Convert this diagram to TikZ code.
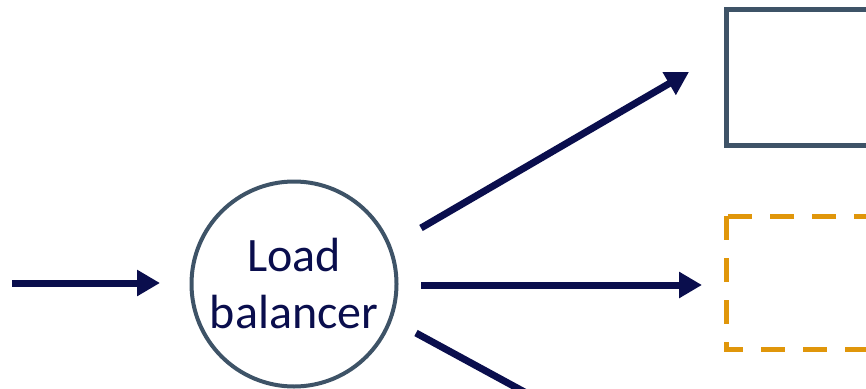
\documentclass[tikz,border=0pt]{standalone}
\usepackage{fontspec}
\setmainfont{Carlito}
\usetikzlibrary{arrows.meta}
\definecolor{navy}{HTML}{0A0E4D}
\definecolor{slate}{HTML}{3E5367}
\definecolor{amber}{HTML}{E0960A}
\begin{document}
\begin{tikzpicture}[x=1pt,y=-1pt,
  flow/.style={draw=navy,line width=7pt,-{Triangle[length=23pt,width=25pt]}},
  flowplain/.style={draw=navy,line width=7pt},
  lb/.style={circle,draw=slate,line width=4pt,minimum size=205pt,inner sep=0pt,
    text=navy,font=\fontsize{48}{57}\selectfont,align=center},
  srv/.style={draw=slate,line width=5pt},
  srvnew/.style={draw=amber,line width=5pt,dash pattern=on 24pt off 18pt}]
\useasboundingbox (0,0) rectangle (866,388);
\clip (0,0) rectangle (866,388);
\node[lb] (lbal) at (294,284) {Load\\balancer};
\coordinate (in) at (12,283);
\coordinate (inend) at (160,283);
\draw[flow] (in) -- (inend);
\coordinate (upA) at (421,228);
\coordinate (upB) at (689,72);
\draw[flow] (upA) -- (upB);
\coordinate (midA) at (421,285);
\coordinate (midB) at (702,285);
\draw[flow] (midA) -- (midB);
\coordinate (lowA) at (416,333);
\coordinate (lowB) at (530,395);
\draw[flowplain] (lowA) -- (lowB);
\draw[srv] (726,9) rectangle (900,145);
\draw[srvnew] (726,216) rectangle (900,349);
\end{tikzpicture}
\end{document}
